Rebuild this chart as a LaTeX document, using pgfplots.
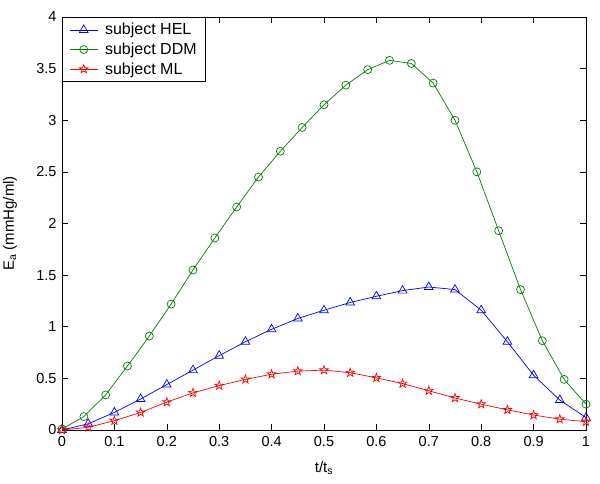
\documentclass[border=0pt]{standalone}
\usepackage{fontspec}
\setmainfont{Liberation Sans}
\usepackage{pgfplots}
\pgfplotsset{compat=1.18}
\pgfdeclareplotmark{pentagram}{%
  \pgfpathmoveto{\pgfpointpolar{90}{\pgfplotmarksize}}%
  \pgfpathlineto{\pgfpointpolar{126}{0.4\pgfplotmarksize}}%
  \pgfpathlineto{\pgfpointpolar{162}{\pgfplotmarksize}}%
  \pgfpathlineto{\pgfpointpolar{198}{0.4\pgfplotmarksize}}%
  \pgfpathlineto{\pgfpointpolar{234}{\pgfplotmarksize}}%
  \pgfpathlineto{\pgfpointpolar{270}{0.4\pgfplotmarksize}}%
  \pgfpathlineto{\pgfpointpolar{306}{\pgfplotmarksize}}%
  \pgfpathlineto{\pgfpointpolar{342}{0.4\pgfplotmarksize}}%
  \pgfpathlineto{\pgfpointpolar{18}{\pgfplotmarksize}}%
  \pgfpathlineto{\pgfpointpolar{54}{0.4\pgfplotmarksize}}%
  \pgfpathclose\pgfusepathqstroke}
\definecolor{mblue}{rgb}{0,0,1}
\definecolor{mgreen}{rgb}{0,0.5,0}
\definecolor{mred}{rgb}{1,0,0}
\begin{document}
\begin{tikzpicture}
\useasboundingbox (-62pt,-54pt) rectangle (538pt,430pt);
\begin{axis}[
  scale only axis,
  width=524pt, height=413pt,
  xmin=0, xmax=1, ymin=0, ymax=4,
  xtick={0,0.1,...,1.0},
  ytick={0,0.5,...,4},
  xticklabels={0,0.1,0.2,0.3,0.4,0.5,0.6,0.7,0.8,0.9,1},
  yticklabels={0,0.5,1,1.5,2,2.5,3,3.5,4},
  tick align=inside,
  major tick length=6pt,
  tick style={black, line width=0.6pt},
  axis line style={line width=0.8pt},
  ticklabel style={font=\fontsize{14.5}{16}\selectfont},
  /pgf/number format/assume math mode=true,
  xticklabel style={yshift=-3pt},
  yticklabel style={xshift=-2pt},
  clip=false,
  xlabel={t/t\textsubscript{s}},
  ylabel={E\textsubscript{a} (mmHg/ml)},
  label style={font=\fontsize{15}{17}\selectfont},
  xlabel style={at={(axis description cs:0.5,-0.092)}, anchor=center},
  ylabel style={at={(axis description cs:-0.0992,0.5)}, anchor=center},
  legend style={at={(0,1)}, anchor=north west, draw=black, line width=0.8pt,
    font=\fontsize{16}{18}\selectfont, inner xsep=7pt, inner ysep=4pt,
    row sep=2.5pt, column sep=5pt, cells={anchor=west}},
  legend image code/.code={%
    \draw[mark repeat=2, mark phase=2, line width=0.7pt] plot coordinates {(0pt,0pt) (14pt,0pt) (28pt,0pt)};},
]
\addplot[mblue, line width=0.7pt, mark=triangle, mark size=5pt, mark options={solid, line width=0.7pt}] coordinates {
(0,0.00) (0.05,0.06) (0.10,0.17) (0.15,0.30) (0.20,0.44) (0.25,0.58) (0.30,0.72)
(0.35,0.855) (0.40,0.975) (0.45,1.08) (0.50,1.16) (0.55,1.235) (0.60,1.295)
(0.65,1.35) (0.70,1.385) (0.75,1.36) (0.80,1.16) (0.85,0.855) (0.90,0.53)
(0.95,0.29) (1.00,0.12)};
\addlegendentry{subject HEL}
\addplot[mgreen, line width=0.7pt, mark=o, mark size=4pt, mark options={solid, line width=0.7pt}] coordinates {
(0,0.01) (0.0417,0.13) (0.0833,0.34) (0.125,0.62) (0.1667,0.91) (0.2083,1.22)
(0.25,1.55) (0.2917,1.86) (0.3333,2.16) (0.375,2.45) (0.4167,2.70) (0.4583,2.93)
(0.5,3.15) (0.5417,3.34) (0.5833,3.49) (0.625,3.58) (0.6667,3.55) (0.7083,3.36)
(0.75,3.00) (0.7917,2.50) (0.8333,1.93) (0.875,1.36) (0.9167,0.865) (0.9583,0.49)
(1,0.25)};
\addlegendentry{subject DDM}
\addplot[mred, line width=0.7pt, mark=pentagram, mark size=4.5pt, mark options={solid, line width=0.7pt}] coordinates {
(0,0.00) (0.05,0.026) (0.10,0.09) (0.15,0.17) (0.20,0.27) (0.25,0.36) (0.30,0.43)
(0.35,0.49) (0.40,0.54) (0.45,0.57) (0.50,0.58) (0.55,0.555) (0.60,0.505)
(0.65,0.45) (0.70,0.38) (0.75,0.31) (0.80,0.25) (0.85,0.195) (0.90,0.145)
(0.95,0.105) (1.00,0.08)};
\addlegendentry{subject ML}
\end{axis}
\end{tikzpicture}
\end{document}
